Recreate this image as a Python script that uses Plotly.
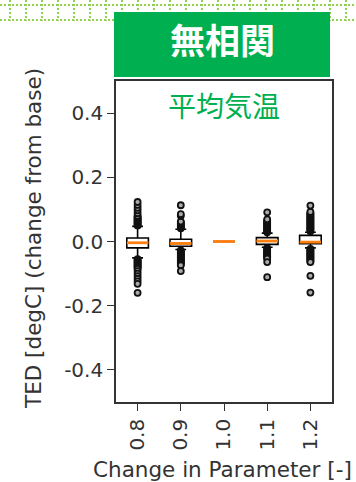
import plotly.graph_objects as go

# ---------------- data ----------------
categories = ["0.8", "0.9", "1.0", "1.1", "1.2"]
q1 = [-0.020, -0.015, 0.0, -0.009, -0.007]
median = [-0.004, -0.006, 0.0, 0.0015, -0.002]
q3 = [0.011, 0.007, 0.0, 0.012, 0.019]
lower_whisker = [-0.051, -0.025, 0.0, -0.018, -0.020]
upper_whisker = [0.047, 0.038, 0.0, 0.026, 0.029]

outliers_08 = [0.050, 0.053, 0.056, 0.059, 0.062, 0.065, 0.068, 0.071, 0.074, 0.077, 0.080,
               0.088, 0.097, 0.105, 0.114, 0.123,
               -0.055, -0.058, -0.061, -0.064, -0.067, -0.070, -0.073, -0.076, -0.079, -0.082, -0.085,
               -0.092, -0.100, -0.108, -0.116, -0.124, -0.132, -0.160]
outliers_09 = [0.041, 0.044, 0.047, 0.050, 0.053, 0.056, 0.059, 0.062, 0.080, 0.085, 0.113,
               -0.028, -0.031, -0.034, -0.037, -0.040, -0.043, -0.046, -0.049, -0.052, -0.055,
               -0.058, -0.061, -0.064, -0.067, -0.070, -0.074, -0.092]
outliers_10 = []
outliers_11 = [0.029, 0.032, 0.035, 0.038, 0.041, 0.044, 0.047, 0.050, 0.053, 0.056, 0.059,
               0.062, 0.065, 0.069, 0.091,
               -0.021, -0.024, -0.027, -0.030, -0.033, -0.036, -0.039, -0.042, -0.045, -0.048,
               -0.051, -0.053, -0.064, -0.111]
outliers_12 = [0.032, 0.035, 0.038, 0.041, 0.044, 0.047, 0.050, 0.053, 0.056, 0.059, 0.062,
               0.065, 0.068, 0.071, 0.074, 0.077, 0.080, 0.083, 0.086, 0.089, 0.092, 0.112,
               -0.023, -0.026, -0.029, -0.032, -0.035, -0.038, -0.041, -0.044, -0.047, -0.050,
               -0.053, -0.056, -0.059, -0.062, -0.064, -0.107, -0.159]
outlier_groups = [outliers_08, outliers_09, outliers_10, outliers_11, outliers_12]

y_tick_vals = [-0.4, -0.2, 0.0, 0.2, 0.4]
y_tick_text = ["-0.4", "-0.2", "0.0", "0.2", "0.4"]

title_text = "無相関"
subtitle_text = "平均気温"
x_title = "Change in Parameter [-]"
y_title = "TED [degC] (change from base)"

# ---------------- layout geometry ----------------
W, H = 356, 482
L, R, T, B = 116, 332, 81, 402
BOX_W = 0.5


def px(xp):
    return (xp - L) / (R - L)


def py(yp):
    return (B - yp) / (B - T)


positions = list(range(len(categories)))

fig = go.Figure()

fig.add_trace(go.Box(
    x=positions, q1=q1, median=median, q3=q3,
    lowerfence=lower_whisker, upperfence=upper_whisker,
    width=BOX_W, whiskerwidth=0.5, boxpoints=False,
    fillcolor="white", line=dict(color="black", width=1.6),
    hoverinfo="skip", showlegend=False,
))

# outliers
ox, oy = [], []
for i, grp in enumerate(outlier_groups):
    for v in grp:
        ox.append(positions[i])
        oy.append(v)
fig.add_trace(go.Scatter(
    x=ox, y=oy, mode="markers",
    marker=dict(symbol="circle", size=6, color="#aaaaaa",
                line=dict(width=1.8, color="#111111")),
    showlegend=False, hoverinfo="skip",
))

# medians (orange)
mx, my = [], []
for i, m in enumerate(median):
    mx += [positions[i] - BOX_W / 2, positions[i] + BOX_W / 2, None]
    my += [m, m, None]
fig.add_trace(go.Scatter(
    x=mx, y=my, mode="lines", line=dict(color="#ff7f0e", width=2.8),
    showlegend=False, hoverinfo="skip",
))

# decorative dotted grid at top
dot_col = "#92d050"
shapes = []
for yy in (5, 20):
    shapes.append(dict(type="line", xref="paper", yref="paper",
                       x0=px(0), x1=px(W), y0=py(yy), y1=py(yy),
                       line=dict(color=dot_col, width=2, dash="2px,2px"), layer="below"))
for k in range(22):
    xx = 10 + 16 * k
    shapes.append(dict(type="line", xref="paper", yref="paper",
                       x0=px(xx), x1=px(xx), y0=py(0), y1=py(21),
                       line=dict(color=dot_col, width=2, dash="2px,2px"), layer="below"))
# green header box
shapes.append(dict(type="rect", xref="paper", yref="paper",
                   x0=px(114), x1=px(330), y0=py(77), y1=py(12),
                   fillcolor="#00b050", line=dict(width=0), layer="above"))

annotations = [
    dict(text="<b>" + title_text + "</b>", x=px(222), y=py(39), xref="paper", yref="paper",
         showarrow=False, xanchor="center", yanchor="middle",
         font=dict(family="Noto Sans CJK JP", size=35, color="white")),
    dict(text=subtitle_text, x=px(224), y=py(105), xref="paper", yref="paper",
         showarrow=False, xanchor="center", yanchor="middle",
         font=dict(family="Noto Sans CJK JP", size=28, color="#00b050")),
    dict(text=y_title, x=px(33), y=py(239), xref="paper", yref="paper",
         showarrow=False, xanchor="center", yanchor="middle", textangle=-90,
         font=dict(family="DejaVu Sans", size=21.5, color="#333333")),
    dict(text=x_title, x=px(222), y=py(469), xref="paper", yref="paper",
         showarrow=False, xanchor="center", yanchor="middle",
         font=dict(family="DejaVu Sans", size=21.5, color="#333333")),
]

axis_common = dict(showgrid=False, zeroline=False, showline=True, mirror=True,
                   linecolor="#333333", linewidth=1.6, ticks="outside", ticklen=7,
                   tickwidth=1.4, tickcolor="#333333",
                   tickfont=dict(family="DejaVu Sans", size=20, color="#333333"))

fig.update_layout(
    width=W, height=H,
    margin=dict(l=L, r=W - R, t=T, b=H - B, pad=0),
    paper_bgcolor="white", plot_bgcolor="white",
    shapes=shapes, annotations=annotations, showlegend=False,
    xaxis=dict(range=[-0.5, 4.5], tickvals=positions, ticktext=categories,
               tickangle=-90, **axis_common),
    yaxis=dict(range=[-0.5, 0.5], tickvals=y_tick_vals, ticktext=y_tick_text,
               **axis_common),
)

fig.write_html("out.html")
